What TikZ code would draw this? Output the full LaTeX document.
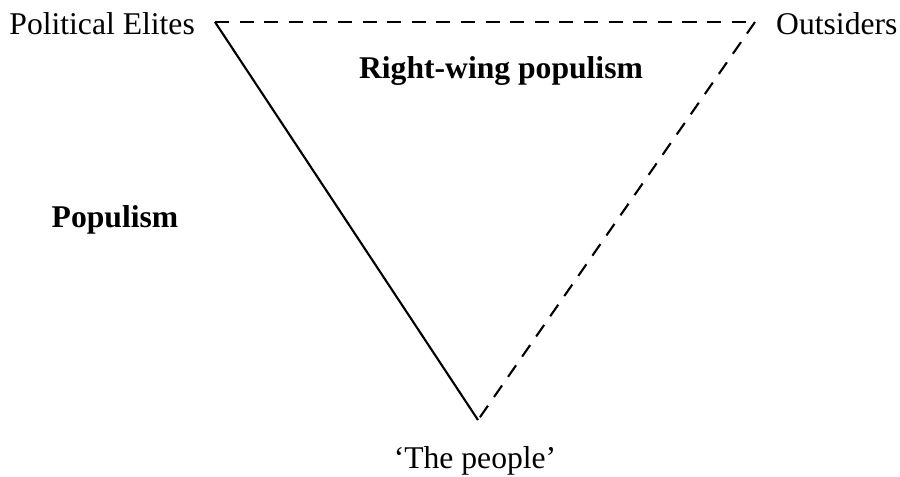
\documentclass[tikz,border=0pt]{standalone}
\usepackage{fontspec}
\setmainfont{Liberation Serif}

\begin{document}
\begin{tikzpicture}[x=0.2mm,y=-0.2mm,
    lbl/.style={font=\fontsize{18}{20}\selectfont},
    bold lbl/.style={font=\fontsize{18}{20}\selectfont\bfseries},
    edge/.style={line width=1.2pt}]
        \useasboundingbox (0,0) rectangle (900,477);
        \coordinate (E) at (215,22);
        \coordinate (O) at (755,22);
        \coordinate (P) at (478,420);
        \draw[edge,dash pattern=on 8pt off 6pt] (E) -- (O);
        \draw[edge] (E) -- (P);
        \draw[edge,dash pattern=on 8pt off 6pt] (O) -- (P);
        \node[lbl,anchor=east] (elites) at (201,24) {Political Elites};
        \node[lbl,anchor=west] (outsiders) at (770,24) {Outsiders};
        \node[lbl] (people) at (475,461) {`The people'};
        \node[bold lbl] (rwp) at (501,71) {Right-wing populism};
        \node[bold lbl] (pop) at (115,220) {Populism};
    \end{tikzpicture}
\end{document}
